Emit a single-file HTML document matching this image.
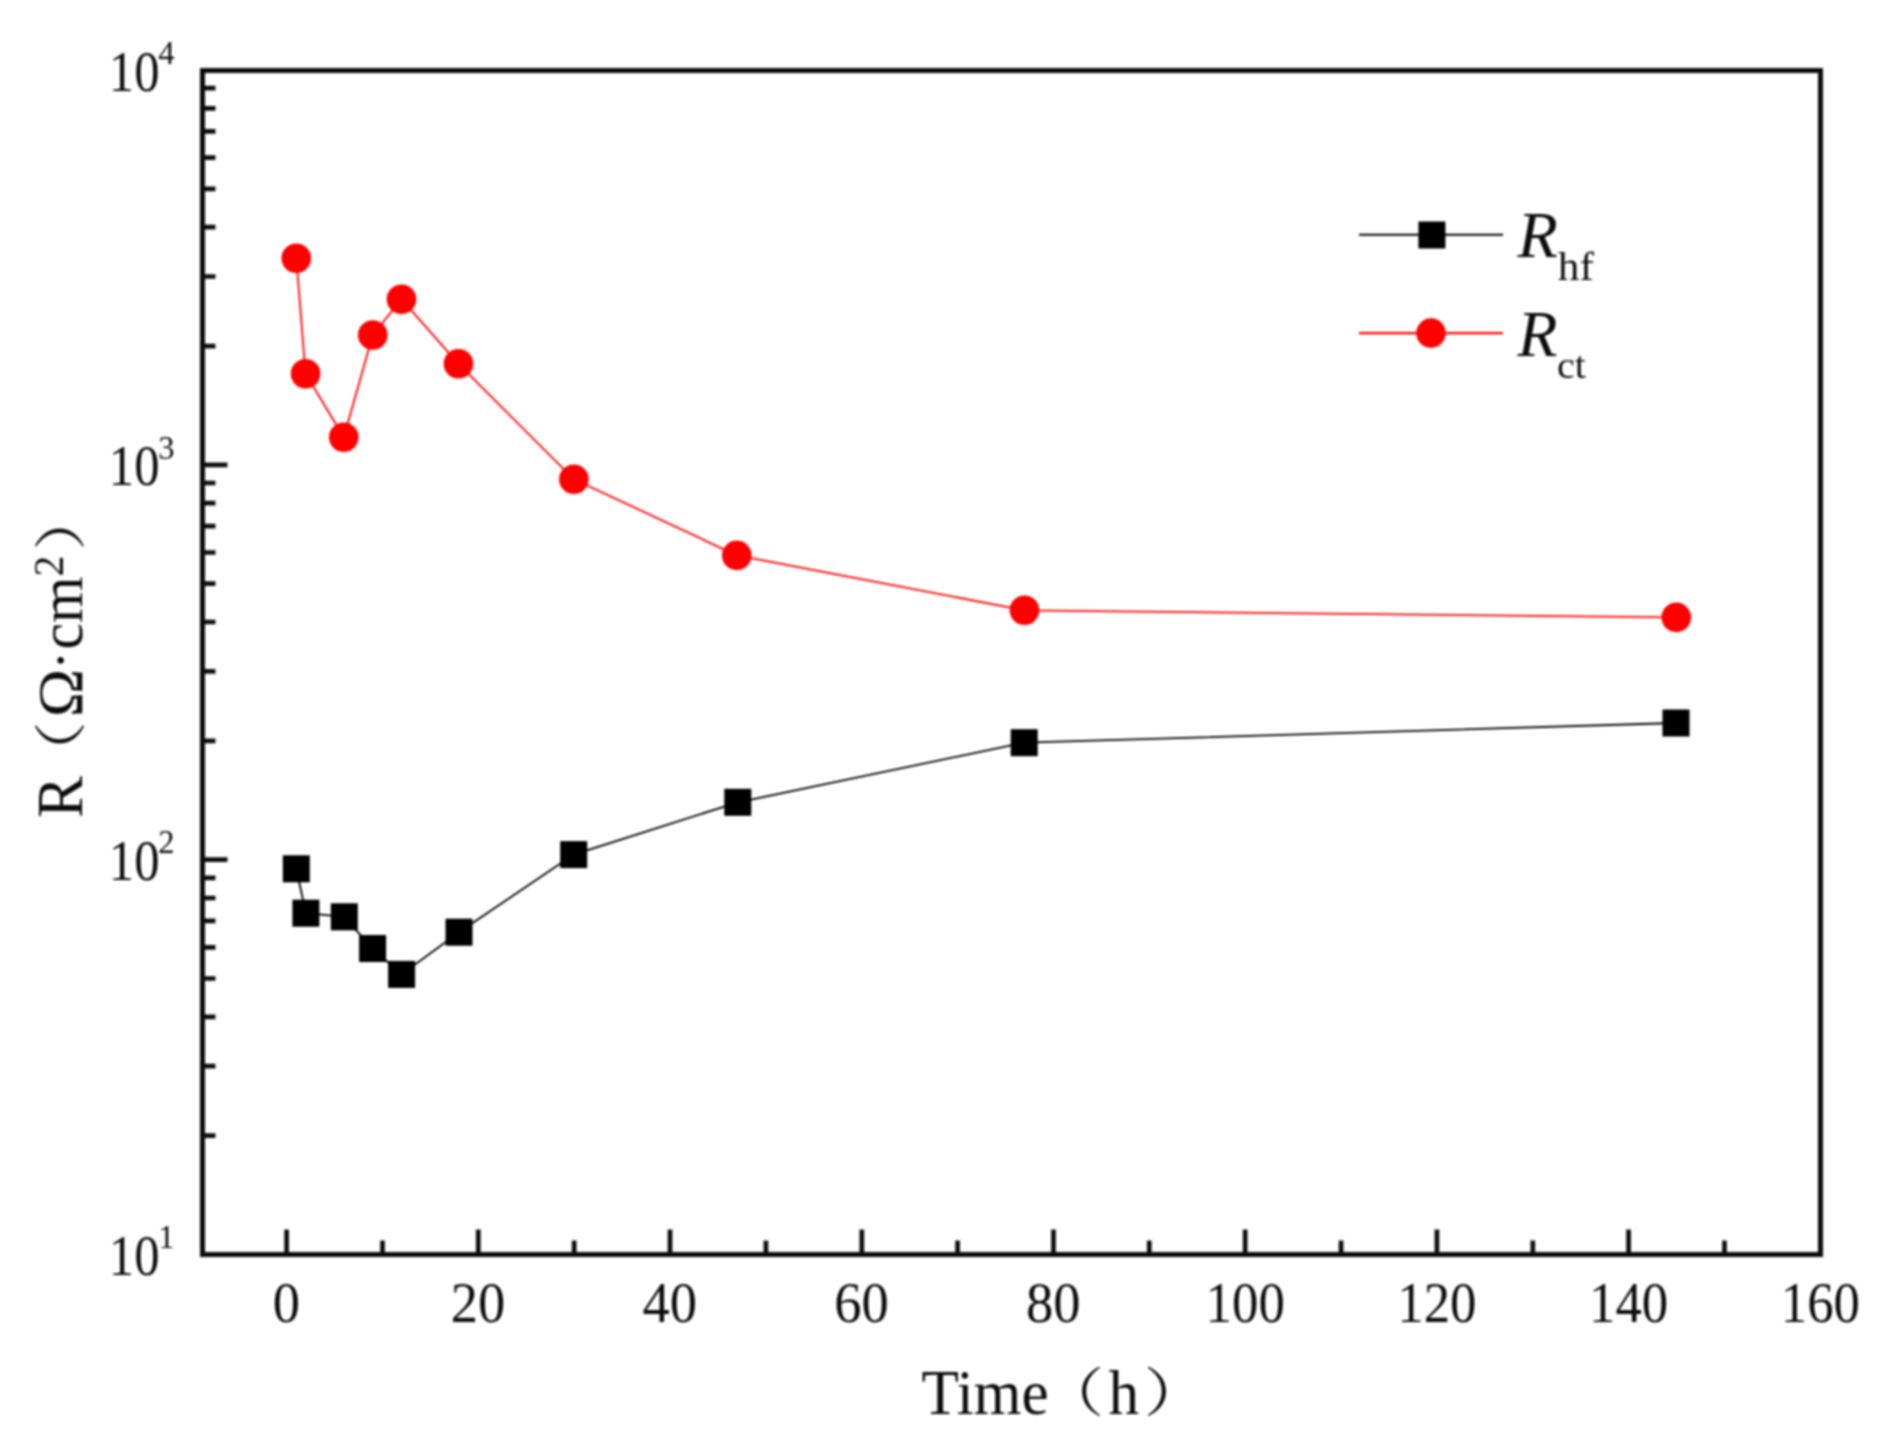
<!DOCTYPE html>
<html lang="en"><head><meta charset="utf-8"><title>R vs Time</title>
<style>html,body{margin:0;padding:0;background:#fff}body{width:1896px;height:1452px;overflow:hidden}svg{display:block}text{font-family:"Liberation Serif","Noto Serif CJK SC",serif;fill:#111}</style></head><body>
<svg width="1896" height="1452" viewBox="0 0 1896 1452">
<defs><filter id="b" x="-2%" y="-2%" width="104%" height="104%"><feGaussianBlur stdDeviation="0.8"/></filter></defs>
<rect width="1896" height="1452" fill="#fff"/>
<g filter="url(#b)">
<path d="M202.5 1135.7h13M202.5 1066.1h13M202.5 1016.8h13M202.5 978.5h13M202.5 947.3h13M202.5 920.9h13M202.5 898.0h13M202.5 877.8h13M202.5 859.7h25M202.5 740.9h13M202.5 671.3h13M202.5 622.0h13M202.5 583.7h13M202.5 552.5h13M202.5 526.1h13M202.5 503.2h13M202.5 483.0h13M202.5 464.9h25M202.5 346.1h13M202.5 276.5h13M202.5 227.2h13M202.5 188.9h13M202.5 157.7h13M202.5 131.3h13M202.5 108.4h13M202.5 88.2h13M286.6 1254.5v-25M382.5 1254.5v-14M478.3 1254.5v-25M574.2 1254.5v-14M670.0 1254.5v-25M765.9 1254.5v-14M861.8 1254.5v-25M957.6 1254.5v-14M1053.5 1254.5v-25M1149.3 1254.5v-14M1245.2 1254.5v-25M1341.1 1254.5v-14M1436.9 1254.5v-25M1532.8 1254.5v-14M1628.6 1254.5v-25M1724.5 1254.5v-14" stroke="#111" stroke-width="4.7" fill="none"/>
<rect x="202.5" y="70.5" width="1618.0" height="1184.0" fill="none" stroke="#111" stroke-width="5"/>
<polyline points="296.3,868.8 305.9,913.2 344.3,916.8 372.6,948.5 401.6,974.4 459.0,932.2 573.7,854.6 737.8,802.3 1024.2,742.7 1676.0,723.0" fill="none" stroke="#000" stroke-width="1.8"/>
<polyline points="296.3,258.2 305.6,373.8 343.8,437.3 372.8,335.0 401.5,299.2 458.5,363.8 573.9,479.3 736.8,555.4 1024.5,610.3 1676.3,617.4" fill="none" stroke="#ff0000" stroke-width="1.8"/>
<rect x="282.8" y="855.3" width="27" height="27" fill="#000"/>
<rect x="292.4" y="899.7" width="27" height="27" fill="#000"/>
<rect x="330.8" y="903.3" width="27" height="27" fill="#000"/>
<rect x="359.1" y="935.0" width="27" height="27" fill="#000"/>
<rect x="388.1" y="960.9" width="27" height="27" fill="#000"/>
<rect x="445.5" y="918.7" width="27" height="27" fill="#000"/>
<rect x="560.2" y="841.1" width="27" height="27" fill="#000"/>
<rect x="724.3" y="788.8" width="27" height="27" fill="#000"/>
<rect x="1010.7" y="729.2" width="27" height="27" fill="#000"/>
<rect x="1662.5" y="709.5" width="27" height="27" fill="#000"/>
<circle cx="296.3" cy="258.2" r="14.8" fill="#ff0000"/>
<circle cx="305.6" cy="373.8" r="14.8" fill="#ff0000"/>
<circle cx="343.8" cy="437.3" r="14.8" fill="#ff0000"/>
<circle cx="372.8" cy="335.0" r="14.8" fill="#ff0000"/>
<circle cx="401.5" cy="299.2" r="14.8" fill="#ff0000"/>
<circle cx="458.5" cy="363.8" r="14.8" fill="#ff0000"/>
<circle cx="573.9" cy="479.3" r="14.8" fill="#ff0000"/>
<circle cx="736.8" cy="555.4" r="14.8" fill="#ff0000"/>
<circle cx="1024.5" cy="610.3" r="14.8" fill="#ff0000"/>
<circle cx="1676.3" cy="617.4" r="14.8" fill="#ff0000"/>
<path d="M1359 234.7H1503" stroke="#000" stroke-width="2.1"/><rect x="1418.4" y="221.5" width="27" height="27" fill="#000"/>
<path d="M1359 333.1H1503" stroke="#ff0000" stroke-width="2.1"/><circle cx="1431" cy="333.1" r="14.8" fill="#ff0000"/>
<text transform="translate(1517.4 257.0) scale(1.020 1)" font-size="64.8" font-style="italic">R</text><text transform="translate(1557.8 280.1) scale(1.100 1)" font-size="39.4">hf</text>
<text transform="translate(1517.4 356.0) scale(1.000 1)" font-size="65.5" font-style="italic">R</text><text transform="translate(1556.9 377.8) scale(1.040 1)" font-size="38.5">ct</text>
<text transform="translate(286.3 1321.5) scale(0.965 1)" font-size="56.5" text-anchor="middle">0</text>
<text transform="translate(478.0 1321.5) scale(0.965 1)" font-size="56.5" text-anchor="middle">20</text>
<text transform="translate(669.7 1321.5) scale(0.965 1)" font-size="56.5" text-anchor="middle">40</text>
<text transform="translate(861.5 1321.5) scale(0.965 1)" font-size="56.5" text-anchor="middle">60</text>
<text transform="translate(1053.2 1321.5) scale(0.965 1)" font-size="56.5" text-anchor="middle">80</text>
<text transform="translate(1245.2 1321.5) scale(0.935 1)" font-size="56.5" text-anchor="middle">100</text>
<text transform="translate(1436.9 1321.5) scale(0.935 1)" font-size="56.5" text-anchor="middle">120</text>
<text transform="translate(1628.6 1321.5) scale(0.935 1)" font-size="56.5" text-anchor="middle">140</text>
<text transform="translate(1820.4 1321.5) scale(0.935 1)" font-size="56.5" text-anchor="middle">160</text>
<text transform="translate(108.8 1274.9) scale(0.900 1)" font-size="56.3">10</text><text transform="translate(158.3 1248.2) scale(0.960 1)" font-size="34.0">1</text>
<text transform="translate(108.8 880.1) scale(0.900 1)" font-size="56.3">10</text><text transform="translate(158.3 853.4) scale(0.960 1)" font-size="34.0">2</text>
<text transform="translate(108.8 485.3) scale(0.900 1)" font-size="56.3">10</text><text transform="translate(158.3 458.6) scale(0.960 1)" font-size="34.0">3</text>
<text transform="translate(108.8 90.5) scale(0.900 1)" font-size="56.3">10</text><text transform="translate(158.3 63.8) scale(0.960 1)" font-size="34.0">4</text>
<text transform="translate(921.5 1413.9) scale(0.971 1)" font-size="63.1">Time</text><text transform="translate(1041.2 1411.3) scale(1.190 1)" font-size="52.7">（</text><text transform="translate(1108.5 1414.2) scale(0.961 1)" font-size="63.8">h</text><text transform="translate(1143.8 1411.3) scale(1.210 1)" font-size="52.7">）</text>
<g transform="rotate(-90)"><text transform="translate(-817.9 81.7) scale(0.968 1)" font-size="65.1">R</text><text transform="translate(-785.0 78.9) scale(1.220 1)" font-size="52.4">（</text><text transform="translate(-717.2 81.7) scale(1.020 1)" font-size="64.1">Ω</text><text transform="translate(-670.0 79.9) scale(1.000 1)" font-size="58.0">·</text><text transform="translate(-649.6 81.7) scale(0.962 1)" font-size="62.1">cm</text><text transform="translate(-576.4 63.4) scale(0.990 1)" font-size="42.3">2</text><text transform="translate(-550.7 79.0) scale(1.220 1)" font-size="52.2">）</text></g>
</g></svg></body></html>
